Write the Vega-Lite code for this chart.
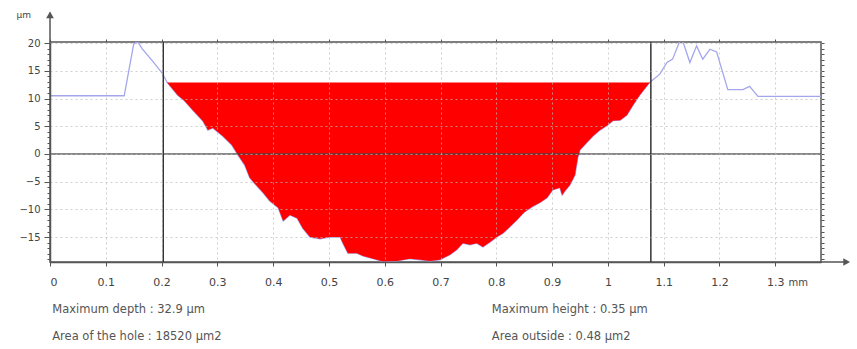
{
  "$schema": "https://vega.github.io/schema/vega-lite/v6.json",
  "width": 771,
  "height": 220,
  "autosize": {"type": "none"},
  "padding": {"left": 50, "top": 42, "right": 36, "bottom": 87},
  "background": "white",
  "config": {
    "font": "DejaVu Sans",
    "view": {"stroke": "#555555", "strokeWidth": 1.5}
  },
  "data": {"values": [{"note": "annotation"}]},
  "datasets": {
    "profile": [
      {"x": 0, "y": 10.5}, {"x": 0.133, "y": 10.5}, {"x": 0.15, "y": 19.8}, {"x": 0.157, "y": 20.3},
      {"x": 0.165, "y": 19.0}, {"x": 0.185, "y": 16.6}, {"x": 0.201, "y": 14.6}, {"x": 0.21, "y": 12.9},
      {"x": 0.229, "y": 10.6}, {"x": 0.24, "y": 9.7}, {"x": 0.256, "y": 7.9}, {"x": 0.274, "y": 5.95},
      {"x": 0.283, "y": 4.3}, {"x": 0.292, "y": 4.7}, {"x": 0.31, "y": 3.2}, {"x": 0.326, "y": 1.6},
      {"x": 0.337, "y": -0.2}, {"x": 0.349, "y": -2.0}, {"x": 0.358, "y": -4.3}, {"x": 0.371, "y": -5.8},
      {"x": 0.382, "y": -7.0}, {"x": 0.394, "y": -8.5}, {"x": 0.409, "y": -9.7}, {"x": 0.418, "y": -12.1},
      {"x": 0.43, "y": -11.0}, {"x": 0.443, "y": -11.6}, {"x": 0.453, "y": -13.4}, {"x": 0.466, "y": -15.0},
      {"x": 0.484, "y": -15.3}, {"x": 0.502, "y": -15.0}, {"x": 0.52, "y": -15.0}, {"x": 0.525, "y": -16.1},
      {"x": 0.534, "y": -17.9}, {"x": 0.55, "y": -17.9}, {"x": 0.561, "y": -18.4}, {"x": 0.579, "y": -18.9},
      {"x": 0.597, "y": -19.4}, {"x": 0.622, "y": -19.3}, {"x": 0.645, "y": -18.9}, {"x": 0.663, "y": -19.1},
      {"x": 0.681, "y": -19.3}, {"x": 0.699, "y": -19.1}, {"x": 0.717, "y": -18.2}, {"x": 0.729, "y": -17.3},
      {"x": 0.74, "y": -16.1}, {"x": 0.753, "y": -16.4}, {"x": 0.765, "y": -16.1}, {"x": 0.776, "y": -16.8},
      {"x": 0.789, "y": -15.9}, {"x": 0.801, "y": -15.0}, {"x": 0.812, "y": -14.3}, {"x": 0.824, "y": -13.2},
      {"x": 0.837, "y": -11.9}, {"x": 0.85, "y": -10.5}, {"x": 0.865, "y": -9.5}, {"x": 0.878, "y": -8.8},
      {"x": 0.891, "y": -7.9}, {"x": 0.901, "y": -6.5}, {"x": 0.914, "y": -6.1}, {"x": 0.918, "y": -7.4},
      {"x": 0.923, "y": -6.7}, {"x": 0.932, "y": -5.6}, {"x": 0.941, "y": -3.8}, {"x": 0.946, "y": -0.7},
      {"x": 0.95, "y": 0.7}, {"x": 0.962, "y": 2.0}, {"x": 0.973, "y": 3.2}, {"x": 0.986, "y": 4.3},
      {"x": 0.998, "y": 5.1}, {"x": 1.009, "y": 6.0}, {"x": 1.022, "y": 6.1}, {"x": 1.034, "y": 7.0},
      {"x": 1.045, "y": 8.8}, {"x": 1.057, "y": 10.6}, {"x": 1.075, "y": 12.9}, {"x": 1.093, "y": 14.4},
      {"x": 1.106, "y": 16.5}, {"x": 1.116, "y": 17.1}, {"x": 1.129, "y": 20.4}, {"x": 1.134, "y": 20.4},
      {"x": 1.147, "y": 16.5}, {"x": 1.159, "y": 19.5}, {"x": 1.17, "y": 17.1}, {"x": 1.183, "y": 18.9},
      {"x": 1.195, "y": 18.4}, {"x": 1.204, "y": 15.3}, {"x": 1.215, "y": 11.6}, {"x": 1.242, "y": 11.6},
      {"x": 1.254, "y": 12.2}, {"x": 1.269, "y": 10.4}, {"x": 1.382, "y": 10.4}
    ],
    "edges": [{"x": 0.203}, {"x": 1.077}]
  },
  "resolve": {"axis": {"x": "independent", "y": "independent"}},
  "layer": [
    {
      "data": {"name": "profile"},
      "mark": {"type": "line", "color": "#a4a6ec", "strokeWidth": 1.3, "clip": true},
      "encoding": {
        "x": {"field": "x", "type": "quantitative", "scale": {"domain": [0, 1.382], "nice": false, "zero": false},
          "axis": {"orient": "bottom", "title": null, "values": [0, 0.1, 0.2, 0.3, 0.4, 0.5, 0.6, 0.7, 0.8, 0.9, 1, 1.1, 1.2, 1.3], "format": "~g",
            "grid": true, "gridDash": [2, 3], "gridColor": "#bbbbbb", "gridOpacity": 0.7, "tickSize": 4, "tickColor": "#555555",
            "domainColor": "#555555", "domainWidth": 1.5, "labelFontSize": 11, "labelColor": "#444444", "labelPadding": 10, "zindex": 1}},
        "y": {"field": "y", "type": "quantitative", "scale": {"domain": [-19.5, 20.2], "nice": false, "zero": false},
          "axis": {"orient": "left", "title": null, "values": [-15, -10, -5, 0, 5, 10, 15, 20],
            "grid": true, "gridDash": [2, 3], "gridColor": "#bbbbbb", "gridOpacity": 0.7, "tickSize": 6, "tickColor": "#555555",
            "domainColor": "#555555", "domainWidth": 1.5, "labelFontSize": 10, "labelColor": "#444444", "labelPadding": 4, "zindex": 1}}
      }
    },
    {
      "data": {"name": "profile"},
      "transform": [{"filter": "datum.x >= 0.205 && datum.x <= 1.08"}],
      "mark": {"type": "area", "color": "#ff0000", "opacity": 1},
      "encoding": {
        "x": {"field": "x", "type": "quantitative", "scale": {"domain": [0, 1.382], "nice": false, "zero": false},
          "axis": {"orient": "top", "title": null, "values": [0, 0.1, 0.2, 0.3, 0.4, 0.5, 0.6, 0.7, 0.8, 0.9, 1, 1.1, 1.2, 1.3],
            "labels": false, "grid": false, "domain": false, "tickSize": 3, "tickColor": "#555555"}},
        "y": {"field": "y", "type": "quantitative", "scale": {"domain": [-19.5, 20.2], "nice": false, "zero": false},
          "axis": {"orient": "left", "title": null, "values": [-19, -18, -17, -16, -14, -13, -12, -11, -9, -8, -7, -6, -4, -3, -2, -1, 1, 2, 3, 4, 6, 7, 8, 9, 11, 12, 13, 14, 16, 17, 18, 19],
            "labels": false, "grid": false, "domain": false, "tickSize": 3, "tickColor": "#555555"}},
        "y2": {"datum": 12.9}
      }
    },
    {
      "mark": {"type": "rule", "color": "#444444", "strokeWidth": 1.5, "opacity": 0.85},
      "encoding": {
        "y": {"datum": 0, "type": "quantitative", "scale": {"domain": [-19.5, 20.2], "nice": false, "zero": false},
          "axis": {"orient": "right", "title": null, "values": [-19, -18, -17, -16, -15, -14, -13, -12, -11, -10, -9, -8, -7, -6, -5, -4, -3, -2, -1, 0, 1, 2, 3, 4, 5, 6, 7, 8, 9, 10, 11, 12, 13, 14, 15, 16, 17, 18, 19, 20],
            "labels": false, "grid": false, "domain": false, "tickSize": 3, "tickColor": "#555555"}}
      }
    },
    {
      "data": {"name": "edges"},
      "mark": {"type": "rule", "color": "#333333", "strokeWidth": 1.5},
      "encoding": {
        "x": {"field": "x", "type": "quantitative", "scale": {"domain": [0, 1.382], "nice": false, "zero": false}, "axis": null}
      }
    },
    {
      "mark": {"type": "rule", "color": "#555555", "strokeWidth": 1.5},
      "encoding": {
        "x": {"datum": 0, "type": "quantitative", "scale": {"domain": [0, 1.382], "nice": false, "zero": false}, "axis": null},
        "y": {"datum": 20.2, "type": "quantitative", "scale": {"domain": [-19.5, 20.2], "nice": false, "zero": false}, "axis": null},
        "y2": {"datum": 25.5}
      }
    },
    {
      "mark": {"type": "rule", "color": "#555555", "strokeWidth": 1.5},
      "encoding": {
        "x": {"datum": 1.382, "type": "quantitative", "scale": {"domain": [0, 1.382], "nice": false, "zero": false}, "axis": null},
        "x2": {"datum": 1.425},
        "y": {"datum": -19.5, "type": "quantitative", "scale": {"domain": [-19.5, 20.2], "nice": false, "zero": false}, "axis": null}
      }
    },
    {
      "mark": {"type": "point", "shape": "triangle-up", "filled": true, "color": "#555555", "size": 60, "opacity": 1},
      "encoding": {
        "x": {"datum": 0, "type": "quantitative", "scale": {"domain": [0, 1.382], "nice": false, "zero": false}, "axis": null},
        "y": {"datum": 25.1, "type": "quantitative", "scale": {"domain": [-19.5, 20.2], "nice": false, "zero": false}, "axis": null}
      }
    },
    {
      "mark": {"type": "point", "shape": "triangle-right", "filled": true, "color": "#555555", "size": 60, "opacity": 1},
      "encoding": {
        "x": {"datum": 1.428, "type": "quantitative", "scale": {"domain": [0, 1.382], "nice": false, "zero": false}, "axis": null},
        "y": {"datum": -19.5, "type": "quantitative", "scale": {"domain": [-19.5, 20.2], "nice": false, "zero": false}, "axis": null}
      }
    },
    {
      "mark": {"type": "text", "text": "µm", "fontSize": 9, "color": "#444444", "align": "center", "baseline": "middle"},
      "encoding": {
        "x": {"datum": -0.047, "type": "quantitative", "scale": {"domain": [0, 1.382], "nice": false, "zero": false}, "axis": null},
        "y": {"datum": 25.1, "type": "quantitative", "scale": {"domain": [-19.5, 20.2], "nice": false, "zero": false}, "axis": null}
      }
    },
    {
      "mark": {"type": "text", "text": "mm", "fontSize": 10, "color": "#444444", "align": "center", "baseline": "middle"},
      "encoding": {
        "x": {"datum": 1.341, "type": "quantitative", "scale": {"domain": [0, 1.382], "nice": false, "zero": false}, "axis": null},
        "y": {"datum": -23.3, "type": "quantitative", "scale": {"domain": [-19.5, 20.2], "nice": false, "zero": false}, "axis": null}
      }
    },
    {
      "mark": {"type": "text", "text": "Maximum depth : 32.9 µm", "fontSize": 11.5, "color": "#555555", "align": "left", "baseline": "middle"},
      "encoding": {
        "x": {"datum": 0.004, "type": "quantitative", "scale": {"domain": [0, 1.382], "nice": false, "zero": false}, "axis": null},
        "y": {"datum": -28.2, "type": "quantitative", "scale": {"domain": [-19.5, 20.2], "nice": false, "zero": false}, "axis": null}
      }
    },
    {
      "mark": {"type": "text", "text": "Area of the hole : 18520 µm2", "fontSize": 11.5, "color": "#555555", "align": "left", "baseline": "middle"},
      "encoding": {
        "x": {"datum": 0.004, "type": "quantitative", "scale": {"domain": [0, 1.382], "nice": false, "zero": false}, "axis": null},
        "y": {"datum": -33.0, "type": "quantitative", "scale": {"domain": [-19.5, 20.2], "nice": false, "zero": false}, "axis": null}
      }
    },
    {
      "mark": {"type": "text", "text": "Maximum height : 0.35 µm", "fontSize": 11.5, "color": "#555555", "align": "left", "baseline": "middle"},
      "encoding": {
        "x": {"datum": 0.792, "type": "quantitative", "scale": {"domain": [0, 1.382], "nice": false, "zero": false}, "axis": null},
        "y": {"datum": -28.2, "type": "quantitative", "scale": {"domain": [-19.5, 20.2], "nice": false, "zero": false}, "axis": null}
      }
    },
    {
      "mark": {"type": "text", "text": "Area outside : 0.48 µm2", "fontSize": 11.5, "color": "#555555", "align": "left", "baseline": "middle"},
      "encoding": {
        "x": {"datum": 0.792, "type": "quantitative", "scale": {"domain": [0, 1.382], "nice": false, "zero": false}, "axis": null},
        "y": {"datum": -33.0, "type": "quantitative", "scale": {"domain": [-19.5, 20.2], "nice": false, "zero": false}, "axis": null}
      }
    }
  ]
}
